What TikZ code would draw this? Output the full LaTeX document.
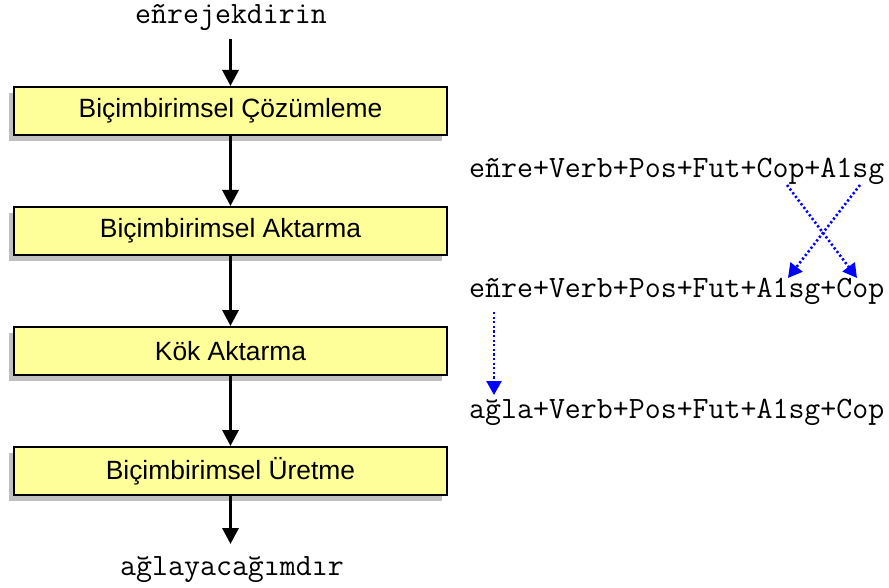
\documentclass[tikz,border=0pt]{standalone}
\usepackage{fontspec}
\setmainfont{Liberation Sans}
\usetikzlibrary{arrows.meta,shadows}

\definecolor{boxfill}{HTML}{FFFF99}
\definecolor{shadowgray}{HTML}{C0C0C0}

\tikzset{
  stagebox/.style={draw=black, line width=2pt, fill=boxfill,
    minimum width=433pt, minimum height=48pt, inner sep=0pt,
    font=\fontsize{26.4}{30}\selectfont,
    drop shadow={shadow xshift=-5pt, shadow yshift=-6pt,
      fill=shadowgray, opacity=1}},
  wordform/.style={font=\ttfamily\fontsize{31}{34}\selectfont, inner sep=0pt,
    anchor=base},
  analysis/.style={wordform, anchor=base west},
  flow/.style={line width=3.2pt, -{Triangle[length=16pt,width=16pt]}},
  swap/.style={blue, line width=2.6pt, dash pattern=on 2.2pt off 2.4pt,
    -{Triangle[length=14pt,width=15pt]}}
}

\begin{document}
\begin{tikzpicture}[x=1pt,y=-1pt]
  \useasboundingbox (0,0) rectangle (889,588);

  % input and output word forms
  \node[wordform] (input)  at (231,23.5) {eñrejekdirin};
  \node[wordform] (output) at (232,575)  {ağlayacağımdır};

  % pipeline stages
  \node[stagebox] (s1) at (230.5,111) {Biçimbirimsel Çözümleme};
  \node[stagebox] (s2) at (230.5,231) {Biçimbirimsel Aktarma};
  \node[stagebox] (s3) at (230.5,351) {Kök Aktarma};
  \node[stagebox] (s4) at (230.5,471) {Biçimbirimsel Üretme};

  \coordinate (inTop) at (230.5,39);
  \coordinate (outEnd) at (230.5,544);
  \draw[flow] (inTop) -- (s1.north);
  \draw[flow] (s1.south) -- (s2.north);
  \draw[flow] (s2.south) -- (s3.north);
  \draw[flow] (s3.south) -- (s4.north);
  \draw[flow] (s4.south) -- (outEnd);

  % analyses at each step
  \node[analysis] (a1) at (469,178) {eñre+Verb+Pos+Fut+Cop+A1sg};
  \node[analysis] (a2) at (469,297) {eñre+Verb+Pos+Fut+A1sg+Cop};
  \node[analysis] (a3) at (469,418) {ağla+Verb+Pos+Fut+A1sg+Cop};

  % tag reordering and root replacement
  \coordinate (copFrom)  at (787,185);
  \coordinate (sgFrom)   at (860,185);
  \coordinate (sgTo)     at (788,278);
  \coordinate (copTo)    at (857,278);
  \coordinate (rootFrom) at (494,312);
  \coordinate (rootTo)   at (494,395);
  \draw[swap] (copFrom) -- (copTo);
  \draw[swap] (sgFrom) -- (sgTo);
  \draw[swap] (rootFrom) -- (rootTo);
\end{tikzpicture}
\end{document}
